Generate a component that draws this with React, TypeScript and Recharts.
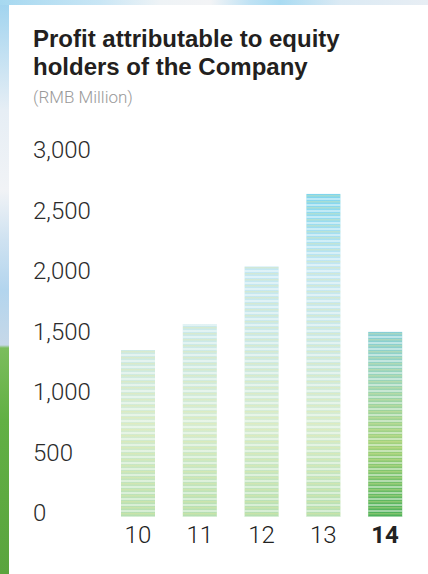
import React from 'react';
import { BarChart, Bar, XAxis, YAxis, Cell } from 'recharts';

const years = ['10', '11', '12', '13', '14'];
const profit = [1380, 1595, 2070, 2670, 1530];
const yTicks = [0, 500, 1000, 1500, 2000, 2500, 3000];

const data = years.map((year, i) => ({ year, profit: profit[i] }));

const W = 428;
const H = 574;
const PLOT_TOP = 154;
const PLOT_BOTTOM = 517;
const FONT = 'Roboto, "Liberation Sans", Arial, sans-serif';

const YTick = ({ y, payload }: any) => (
    <text x={33} y={y - 4} dominantBaseline="central" fontSize={24} fontWeight={300} fill="#2b2b2b" fontFamily={FONT}>
        {payload.value.toLocaleString('en-US')}
    </text>
);

const XTick = ({ x, payload, index }: any) => (
    <text
        x={x}
        y={535}
        textAnchor="middle"
        dominantBaseline="central"
        fontSize={24}
        fontWeight={index === years.length - 1 ? 700 : 300}
        fill="#222"
        fontFamily={FONT}
    >
        {payload.value}
    </text>
);

const StripedBar = (props: any) => {
    const { x, y, width, height, fill } = props;
    return (
        <g>
            <rect x={x} y={y} width={width} height={height} fill={fill} />
            <rect x={x} y={y} width={width} height={height} fill="url(#stripes)" />
        </g>
    );
};

export default function App() {
    return (
        <div
            style={{
                position: 'absolute',
                left: 0,
                top: 0,
                width: W,
                height: H,
                overflow: 'hidden',
                background:
                    'linear-gradient(to bottom, #9fd3ef 0px, #e6eef5 110px, #f1f3f6 190px, #cfe2f1 240px, #b3d5ee 290px, #c6d8e8 345px, #7bbd5c 348px, #62b044 420px, #5aa43e 574px)',
            }}
        >
            <div
                style={{
                    position: 'absolute',
                    left: 0,
                    top: 0,
                    width: W,
                    height: 5,
                    background: 'linear-gradient(to right, #a6d8f0 0px, #c9e6f5 100px, #eef3f6 160px, #f3f4f6 210px, #bfe2f4 250px, #a9dbf2 280px, #dbeaf4 340px, #e8eef4 428px)',
                }}
            />
            <div style={{ position: 'absolute', left: 9, top: 5, right: 0, bottom: 0, background: '#fff' }} />
            <div
                style={{
                    position: 'absolute',
                    left: 33,
                    top: 25,
                    fontFamily: '"Liberation Sans", Arial, sans-serif',
                    fontWeight: 700,
                    fontSize: 24,
                    lineHeight: '28px',
                    color: '#231f20',
                    whiteSpace: 'nowrap',
                }}
            >
                Profit attributable to equity
                <br />
                holders of the Company
            </div>
            <div
                style={{
                    position: 'absolute',
                    left: 33,
                    top: 87,
                    fontFamily: FONT,
                    fontWeight: 300,
                    fontSize: 17,
                    lineHeight: '20px',
                    color: '#9a9a9a',
                    whiteSpace: 'nowrap',
                }}
            >
                (RMB Million)
            </div>
            <div style={{ position: 'absolute', left: 0, top: 0 }}>
                <BarChart width={W} height={H} data={data} margin={{ top: PLOT_TOP, right: 12, bottom: 0, left: 0 }}>
                    <defs>
                        <linearGradient id="gradSoft" gradientUnits="userSpaceOnUse" x1="0" y1={PLOT_TOP} x2="0" y2={PLOT_BOTTOM}>
                            <stop offset="0" stopColor="#74d1ee" />
                            <stop offset="0.11" stopColor="#7fd5ee" />
                            <stop offset="0.31" stopColor="#c3e7f4" />
                            <stop offset="0.5" stopColor="#cbe9ea" />
                            <stop offset="0.75" stopColor="#d5ecd3" />
                            <stop offset="1" stopColor="#b5dfb1" />
                        </linearGradient>
                        <linearGradient id="gradHi" gradientUnits="userSpaceOnUse" x1="0" y1={PLOT_TOP} x2="0" y2={PLOT_BOTTOM}>
                            <stop offset="0.48" stopColor="#85ced8" />
                            <stop offset="0.63" stopColor="#9ad4b8" />
                            <stop offset="0.8" stopColor="#a0d17c" />
                            <stop offset="1" stopColor="#4cb05a" />
                        </linearGradient>
                        <pattern id="stripes" patternUnits="userSpaceOnUse" width="8" height="6">
                            <rect x="0" y="0" width="8" height="2" fill="#ffffff" fillOpacity="0.45" />
                            <rect x="0" y="3" width="8" height="1.5" fill="#f3ee96" fillOpacity="0.3" />
                        </pattern>
                    </defs>
                    <XAxis dataKey="year" axisLine={false} tickLine={false} height={57} tick={<XTick />} interval={0} />
                    <YAxis
                        width={107}
                        domain={[0, 3000]}
                        ticks={yTicks}
                        axisLine={false}
                        tickLine={false}
                        tick={<YTick />}
                        interval={0}
                    />
                    <Bar dataKey="profit" barSize={34} shape={<StripedBar />} isAnimationActive={false}>
                        {data.map((d, i) => (
                            <Cell key={d.year} fill={i === data.length - 1 ? 'url(#gradHi)' : 'url(#gradSoft)'} />
                        ))}
                    </Bar>
                </BarChart>
            </div>
        </div>
    );
}
